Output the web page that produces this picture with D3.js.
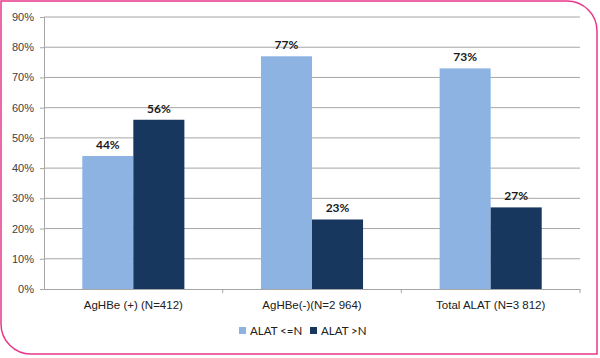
<!DOCTYPE html>
<html>
<head>
<meta charset="utf-8">
<script src="https://cdn.jsdelivr.net/npm/d3@7"></script>
<style>
  body { margin: 0; background: #fff; }
  svg { display: block; font-family: Lato, "Open Sans", sans-serif; }
</style>
</head>
<body>
<script>
const categories = ["AgHBe (+) (N=412)", "AgHBe(-)(N=2 964)", "Total ALAT (N=3 812)"];
const seriesNames = ["ALAT <=N", "ALAT >N"];
const seriesColors = ["#8db3e2", "#17375e"];
const lowValues = [44, 77, 73];   // ALAT <=N
const highValues = [56, 23, 27];  // ALAT >N
const yTicks = [0, 10, 20, 30, 40, 50, 60, 70, 80, 90];

const width = 600, height = 358;
const margin = {left: 44, top: 17, right: 20, bottom: 69};

const svg = d3.select("body").append("svg")
    .attr("width", width)
    .attr("height", height);

// pink frame, rounded on top-right and bottom-left
const r = 30, x0 = 1, y0 = 1, x1 = 597, y1 = 354;
svg.append("path")
    .attr("d", `M${x0},${y0} H${x1 - r} A${r},${r} 0 0 1 ${x1},${y0 + r} V${y1} H${x0 + r} A${r},${r} 0 0 1 ${x0},${y1 - r} Z`)
    .attr("fill", "none")
    .attr("stroke", "#e8378a")
    .attr("stroke-width", 1.5);

const x = d3.scaleBand()
    .domain(categories)
    .range([margin.left, width - margin.right])
    .paddingInner(0)
    .paddingOuter(0);

const xSub = d3.scaleBand()
    .domain(seriesNames)
    .range([0, x.bandwidth()])
    .paddingOuter(0.75)
    .paddingInner(0);

const y = d3.scaleLinear()
    .domain([0, 90])
    .range([height - margin.bottom, margin.top]);

// gridlines
svg.append("g")
    .selectAll("line")
    .data(yTicks.slice(1))
    .join("line")
    .attr("x1", margin.left)
    .attr("x2", width - margin.right)
    .attr("y1", d => y(d))
    .attr("y2", d => y(d))
    .attr("stroke", "#a6a6a6")
    .attr("stroke-width", 1);

// y axis
const yAxis = svg.append("g")
    .attr("transform", `translate(${margin.left},0)`)
    .call(d3.axisLeft(y).tickValues(yTicks).tickFormat(d => d + "%").tickSize(4).tickPadding(6));
yAxis.select(".domain").attr("stroke", "#a6a6a6");
yAxis.selectAll(".tick line").attr("stroke", "#a6a6a6");
yAxis.selectAll("text").attr("fill", "#404040").style("font-size", "11px");

// x axis
const xAxis = svg.append("g")
    .attr("transform", `translate(0,${y(0)})`)
    .call(d3.axisBottom(x).tickSize(0).tickPadding(12));
xAxis.select(".domain").attr("stroke", "#a6a6a6");
xAxis.selectAll("text").attr("fill", "#202020").style("font-size", "11.5px");
// category dividers
svg.append("g")
    .selectAll("line")
    .data(categories)
    .join("line")
    .attr("x1", d => x(d) + x.bandwidth())
    .attr("x2", d => x(d) + x.bandwidth())
    .attr("y1", y(0))
    .attr("y2", y(0) + 4)
    .attr("stroke", "#a6a6a6");

// bars
const rows = categories.map((c, i) => ({cat: c, vals: [lowValues[i], highValues[i]]}));
const groups = svg.append("g")
    .selectAll("g")
    .data(rows)
    .join("g")
    .attr("transform", d => `translate(${x(d.cat)},0)`);

groups.selectAll("rect")
    .data(d => d.vals.map((v, j) => ({name: seriesNames[j], v, j})))
    .join("rect")
    .attr("x", d => xSub(d.name))
    .attr("width", xSub.bandwidth())
    .attr("y", d => y(d.v))
    .attr("height", d => y(0) - y(d.v))
    .attr("fill", d => seriesColors[d.j]);

groups.selectAll("text")
    .data(d => d.vals.map((v, j) => ({name: seriesNames[j], v, j})))
    .join("text")
    .attr("x", d => xSub(d.name) + xSub.bandwidth() / 2)
    .attr("y", d => y(d.v) - 7)
    .attr("text-anchor", "middle")
    .style("font-size", "12px")
    .style("font-weight", "bold")
    .attr("fill", "#1a1a1a")
    .text(d => d.v + "%");

// legend
const legendX = [239, 310];
const legend = svg.append("g")
    .selectAll("g")
    .data(seriesNames)
    .join("g")
    .attr("transform", (d, i) => `translate(${legendX[i]},331)`);
legend.append("rect")
    .attr("x", 0)
    .attr("y", -4)
    .attr("width", 7)
    .attr("height", 7)
    .attr("fill", (d, i) => seriesColors[i]);
legend.append("text")
    .attr("x", 11)
    .attr("y", 4)
    .style("font-size", "11.5px")
    .attr("fill", "#202020")
    .text(d => d);
</script>
</body>
</html>
